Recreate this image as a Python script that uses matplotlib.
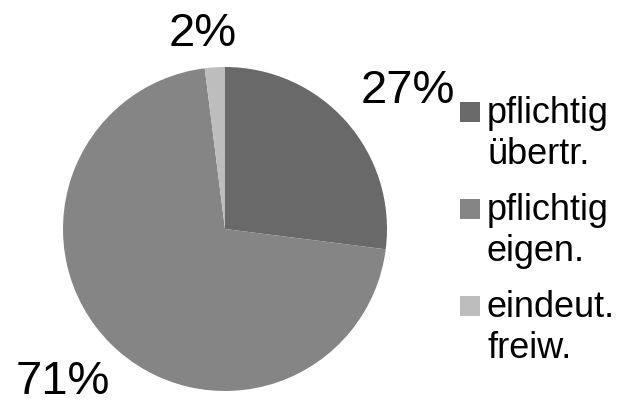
import numpy as np
import matplotlib
matplotlib.use('Agg')
import matplotlib.pyplot as plt
from matplotlib.patches import Rectangle

plt.rcParams['font.family'] = ['Liberation Sans', 'DejaVu Sans']

categorias = [['pflichtig', 'übertr.'], ['pflichtig', 'eigen.'], ['eindeut.', 'freiw.']]
valores = [27, 71, 2]
cores = ['#696969', '#858585', '#bdbdbd']
# distancia do rotulo (em raios) e desvio de angulo para cada fatia
dist_rotulo = [1.42, 1.37, 1.22]
desvio_ang = [-4.2, -1.8, 2.8]

W, H = 624, 402
fig = plt.figure(figsize=(W / 100, H / 100), dpi=100)
ax = fig.add_axes([63 / W, 10 / H, 324 / W, 324 / H])

wedges, _ = ax.pie(valores, colors=cores, startangle=90, counterclock=False,
                   radius=1, wedgeprops=dict(linewidth=0))
ax.set_xlim(-1, 1)
ax.set_ylim(-1, 1)
ax.set_aspect('equal')

for w, v, d, da in zip(wedges, valores, dist_rotulo, desvio_ang):
    ang = np.deg2rad((w.theta1 + w.theta2) / 2 + da)
    ax.text(d * np.cos(ang), d * np.sin(ang), f'{v}%', fontsize=34,
            ha='center', va='center', clip_on=False)

# legenda feita a mao (marcador alinhado com a primeira linha)
y0 = 123
passo = 97
entre_linhas = 41
for i, (linhas, cor) in enumerate(zip(categorias, cores)):
    yb = y0 + i * passo
    fig.add_artist(Rectangle((460 / W, 1 - yb / H), 20 / W, 20 / H,
                             transform=fig.transFigure, color=cor, lw=0))
    for j, txt in enumerate(linhas):
        fig.text(487 / W, 1 - (yb + j * entre_linhas) / H, txt, fontsize=26,
                 ha='left', va='baseline')

fig.savefig('out.png', dpi=100)
